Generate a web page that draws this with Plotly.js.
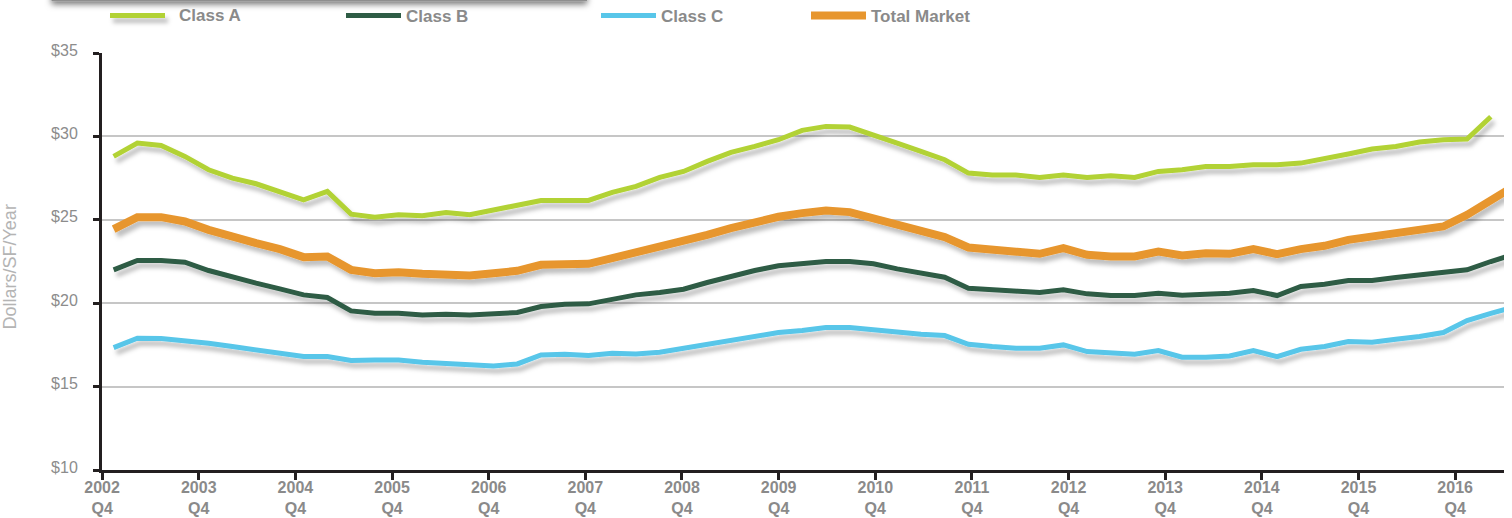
<!DOCTYPE html>
<html>
<head>
<meta charset="utf-8">
<script src="https://cdn.plot.ly/plotly-3.0.1.min.js"></script>
<style>
  html, body { margin: 0; padding: 0; background: #ffffff; }
  #chart { width: 1512px; height: 518px; }
</style>
</head>
<body>
<div id="chart"></div>
<script>
// ---------------- DATA ----------------
const seriesNames = ['Class A', 'Class B', 'Class C', 'Total Market'];

// Rent, dollars per square foot per year, one value per quarter
const classA = [28.80, 29.60, 29.46, 28.80, 28.00, 27.50, 27.16, 26.70, 26.20, 26.70,
                25.34, 25.16, 25.30, 25.24, 25.44, 25.30, 25.60, 25.90, 26.16, 26.16,
                26.16, 26.64, 27.00, 27.54, 27.90, 28.50, 29.04, 29.40, 29.80, 30.36,
                30.60, 30.56, 30.04, 29.60, 29.10, 28.60, 27.80, 27.68, 27.68, 27.54,
                27.68, 27.54, 27.64, 27.54, 27.90, 28.00, 28.20, 28.20, 28.30, 28.30,
                28.40, 28.64, 28.94, 29.24, 29.40, 29.66, 29.80, 29.84, 31.18];

const classB = [22.00, 22.56, 22.56, 22.46, 21.96, 21.56, 21.20, 20.86, 20.50, 20.34,
                19.54, 19.40, 19.40, 19.30, 19.34, 19.30, 19.40, 19.44, 19.80, 19.94,
                19.96, 20.24, 20.50, 20.64, 20.84, 21.24, 21.60, 21.96, 22.24, 22.36,
                22.50, 22.50, 22.36, 22.06, 21.80, 21.56, 20.90, 20.80, 20.74, 20.64,
                20.80, 20.56, 20.46, 20.46, 20.60, 20.48, 20.54, 20.60, 20.76, 20.46,
                21.00, 21.14, 21.36, 21.36, 21.54, 21.70, 21.86, 22.00, 22.50, 22.95];

const classC = [17.34, 17.90, 17.88, 17.76, 17.60, 17.40, 17.20, 16.96, 16.80, 16.80,
                16.56, 16.60, 16.60, 16.46, 16.40, 16.36, 16.24, 16.36, 16.90, 16.94,
                16.86, 17.00, 16.96, 17.06, 17.30, 17.56, 17.74, 18.00, 18.24, 18.36,
                18.54, 18.54, 18.40, 18.30, 18.14, 18.06, 17.54, 17.40, 17.30, 17.30,
                17.50, 17.10, 17.04, 16.94, 17.16, 16.76, 16.76, 16.84, 17.16, 16.80,
                17.24, 17.40, 17.70, 17.66, 17.84, 18.00, 18.24, 18.96, 19.39, 19.78];

const totalMarket = [24.44, 25.16, 25.16, 24.90, 24.40, 23.94, 23.60, 23.24, 22.76, 22.80,
                     22.00, 21.80, 21.86, 21.76, 21.70, 21.66, 21.80, 21.94, 22.30, 22.36,
                     22.36, 22.70, 23.04, 23.40, 23.66, 24.10, 24.50, 24.86, 25.18, 25.40,
                     25.56, 25.46, 25.10, 24.76, 24.36, 23.96, 23.34, 23.20, 23.10, 22.96,
                     23.30, 22.90, 22.80, 22.80, 23.10, 22.86, 23.00, 22.96, 23.24, 22.94,
                     23.24, 23.44, 23.80, 24.00, 24.16, 24.36, 24.60, 25.30, 26.20, 27.03];

// axis tick labels
const tickYears = ['2002', '2003', '2004', '2005', '2006', '2007', '2008', '2009',
                   '2010', '2011', '2012', '2013', '2014', '2015', '2016'];
const tickQuarter = 'Q4';
const yTickValues = [10, 15, 20, 25, 30, 35];
const yAxisTitle = 'Dollars/SF/Year';

// ---------------- STYLE ----------------
const FONT = "'Liberation Sans', Arial, Helvetica, sans-serif";
const AXIS_COLOR = '#231f20';
const LABEL_GRAY = '#8a8a8a';
const colors = ['#b2d235', '#2e5c45', '#58c6e9', '#e7962e'];
const widths = [5, 5, 5, 8];

// geometry of the category axis (in quarter-index units)
const X_MIN = -0.49, X_MAX = 58.556;
const TICK0 = -0.485, TICK_STEP = 4.0703;

const seriesValues = [classA, classB, classC, totalMarket];
const legendIds = ['legend', 'legend2', 'legend3', 'legend4'];

const traces = seriesValues.map((vals, s) => ({
  type: 'scatter',
  mode: 'lines',
  name: seriesNames[s],
  x: vals.map((_, i) => i),
  y: vals,
  line: { color: colors[s], width: widths[s], shape: 'linear' },
  legend: legendIds[s],
  hoverinfo: 'skip'
}));

const tickvals = tickYears.map((_, k) => TICK0 + k * TICK_STEP);
const ticktext = tickYears.map(y => y + '<br>' + tickQuarter);

const legendFont = { family: FONT, size: 17, color: LABEL_GRAY, weight: 'bold' };
const legendX = [105, 341, 596, 806];
function legendAt(px) {
  return {
    xref: 'container', yref: 'container',
    x: px / 1512, y: 1 - 16 / 518,
    xanchor: 'left', yanchor: 'middle',
    orientation: 'h', bgcolor: 'rgba(0,0,0,0)',
    font: legendFont, itemwidth: 55, borderwidth: 0
  };
}

const layout = {
  width: 1512, height: 518,
  margin: { l: 102, r: 8, t: 53, b: 48, pad: 0 },
  paper_bgcolor: '#ffffff', plot_bgcolor: '#ffffff',
  font: { family: FONT, color: LABEL_GRAY },
  showlegend: true,
  legend: legendAt(legendX[0]),
  legend2: legendAt(legendX[1]),
  legend3: legendAt(legendX[2]),
  legend4: legendAt(legendX[3]),
  xaxis: {
    range: [X_MIN, X_MAX], automargin: false, fixedrange: true,
    showgrid: false, zeroline: false,
    showline: true, linecolor: AXIS_COLOR, linewidth: 3,
    ticks: 'outside', ticklen: 7, tickwidth: 3, tickcolor: AXIS_COLOR,
    tickmode: 'array', tickvals: tickvals, ticktext: ticktext,
    tickfont: { family: FONT, size: 16, color: LABEL_GRAY, weight: 'bold' },
    ticklabelstandoff: -6
  },
  xaxis2: {
    overlaying: 'x', matches: 'x', anchor: 'y', side: 'bottom',
    range: [X_MIN, X_MAX], automargin: false, fixedrange: true,
    showgrid: false, zeroline: false, showline: false,
    ticks: 'inside', ticklen: 7, tickwidth: 3, tickcolor: AXIS_COLOR,
    tickmode: 'array', tickvals: tickvals, showticklabels: false
  },
  yaxis: {
    range: [10, 35], automargin: false, fixedrange: true,
    showgrid: true, gridcolor: '#c6c6c6', gridwidth: 2, zeroline: false,
    showline: true, linecolor: AXIS_COLOR, linewidth: 3,
    ticks: 'outside', ticklen: 6, tickwidth: 3, tickcolor: AXIS_COLOR,
    tickmode: 'array', tickvals: yTickValues, ticktext: yTickValues.map(v => '$' + v),
    tickfont: { family: FONT, size: 16, color: '#8c8c8c' },
    ticklabelstandoff: 12, ticklabelshift: -3
  },
  // y-axis title at the far left edge
  annotations: [{
    text: yAxisTitle, textangle: -90, showarrow: false,
    xref: 'paper', yref: 'paper', x: -0.0655, y: 0.486,
    xanchor: 'center', yanchor: 'middle',
    font: { family: FONT, size: 18, color: '#b4b4b4' }
  }],
  shapes: [{
    type: 'rect', xref: 'paper', yref: 'paper', layer: 'above',
    x0: -0.036, x1: 0.346, y0: 1.124, y1: 1.2,
    fillcolor: '#8e8e8e', line: { width: 0 }
  }]
};

Plotly.newPlot('chart', traces, layout, { staticPlot: true, displayModeBar: false }).then(gd => {
  const NS = 'http://www.w3.org/2000/svg';
  const svg = gd.querySelector('svg.main-svg');
  let defs = svg.querySelector('defs');
  if (!defs) { defs = document.createElementNS(NS, 'defs'); svg.insertBefore(defs, svg.firstChild); }
  function addShadow(id, dx, dy, sd, op) {
    const f = document.createElementNS(NS, 'filter');
    f.setAttribute('id', id);
    f.setAttribute('filterUnits', 'userSpaceOnUse');
    f.setAttribute('x', '-3000'); f.setAttribute('y', '-3000');
    f.setAttribute('width', '8000'); f.setAttribute('height', '8000');
    const ds = document.createElementNS(NS, 'feDropShadow');
    ds.setAttribute('dx', dx); ds.setAttribute('dy', dy);
    ds.setAttribute('stdDeviation', sd);
    ds.setAttribute('flood-color', '#000'); ds.setAttribute('flood-opacity', op);
    f.appendChild(ds);
    defs.appendChild(f);
  }
  addShadow('lineShadow', 3, 5, 2, 0.25);
  addShadow('boxShadow', 0, 3, 3, 0.55);
  gd.querySelectorAll('.scatterlayer .js-line, .legend .js-line').forEach(p => p.setAttribute('filter', 'url(#lineShadow)'));
  gd.querySelectorAll('.shapelayer path').forEach(p => p.setAttribute('filter', 'url(#boxShadow)'));
  // legends: no clipping, and a little more room between line sample and label
  gd.querySelectorAll('.legend [clip-path]').forEach(e => e.removeAttribute('clip-path'));
  gd.querySelectorAll('.legend .legendtext').forEach(t => {
    t.setAttribute('transform', 'translate(9,-1.5)');
  });
});
</script>
</body>
</html>
